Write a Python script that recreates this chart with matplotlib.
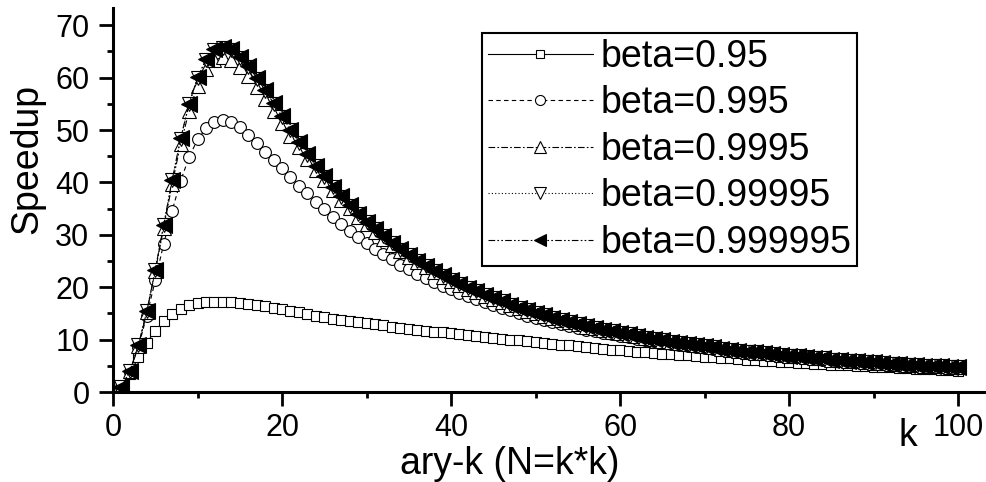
import matplotlib
matplotlib.use("Agg")
import matplotlib.pyplot as plt
from matplotlib.ticker import MultipleLocator

plt.rcParams['font.family'] = ['Liberation Sans', 'DejaVu Sans']

# k = 1..100 (ary-k)
k = list(range(1, 101))

# speedup values
beta_095 = [
    1.0, 3.5, 6.6, 9.4, 11.7, 13.5, 14.9, 15.9, 16.6, 16.9,
    17.1, 17.2, 17.2, 17.1, 17.0, 16.8, 16.6, 16.4, 16.1, 15.8,
    15.5, 15.2, 14.9, 14.6, 14.3, 14.0, 13.8, 13.5, 13.3, 13.1,
    12.9, 12.7, 12.5, 12.3, 12.1, 11.9, 11.7, 11.5, 11.4, 11.2,
    11.0, 10.9, 10.7, 10.5, 10.4, 10.2, 10.0, 9.9, 9.7, 9.5,
    9.4, 9.2, 9.0, 8.9, 8.7, 8.6, 8.4, 8.3, 8.1, 8.0,
    7.9, 7.7, 7.6, 7.5, 7.3, 7.2, 7.1, 7.0, 6.8, 6.7,
    6.6, 6.5, 6.4, 6.3, 6.2, 6.1, 6.0, 5.9, 5.8, 5.7,
    5.6, 5.5, 5.4, 5.3, 5.2, 5.15, 5.1, 5.0, 4.9, 4.8,
    4.75, 4.7, 4.6, 4.5, 4.45, 4.4, 4.3, 4.2, 4.15, 4.1,
]
beta_0995 = [
    1.0, 3.9, 8.6, 14.6, 21.3, 28.3, 34.6, 40.3, 44.8, 48.2,
    50.3, 51.5, 51.9, 51.5, 50.5, 49.0, 47.5, 45.9, 44.3, 42.7,
    41.1, 39.4, 37.9, 36.3, 34.9, 33.5, 32.1, 30.8, 29.6, 28.4,
    27.3, 26.3, 25.3, 24.3, 23.4, 22.6, 21.8, 21.0, 20.3, 19.6,
    18.9, 18.3, 17.7, 17.1, 16.6, 16.0, 15.6, 15.1, 14.6, 14.2,
    13.8, 13.4, 13.0, 12.6, 12.3, 11.9, 11.6, 11.3, 11.0, 10.7,
    10.5, 10.2, 9.9, 9.7, 9.4, 9.2, 9.0, 8.8, 8.6, 8.4,
    8.2, 8.0, 7.8, 7.7, 7.5, 7.3, 7.2, 7.0, 6.9, 6.7,
    6.6, 6.5, 6.3, 6.2, 6.1, 6.0, 5.8, 5.7, 5.6, 5.5,
    5.4, 5.3, 5.2, 5.1, 5.0, 4.9, 4.9, 4.8, 4.7, 4.6,
]
beta_09995 = [
    1.0, 4.0, 8.8, 15.3, 23.1, 31.4, 39.7, 47.3, 53.6, 58.4,
    61.6, 63.4, 63.9, 63.4, 62.1, 60.4, 58.3, 56.0, 53.7, 51.3,
    48.9, 46.7, 44.5, 42.4, 40.4, 38.5, 36.7, 35.1, 33.5, 32.0,
    30.6, 29.3, 28.1, 26.9, 25.8, 24.8, 23.8, 22.9, 22.0, 21.2,
    20.4, 19.7, 19.0, 18.3, 17.7, 17.1, 16.6, 16.0, 15.5, 15.0,
    14.6, 14.1, 13.7, 13.3, 12.9, 12.5, 12.2, 11.8, 11.5, 11.2,
    10.9, 10.6, 10.3, 10.1, 9.8, 9.6, 9.3, 9.1, 8.9, 8.7,
    8.5, 8.3, 8.1, 7.9, 7.7, 7.5, 7.4, 7.2, 7.1, 6.9,
    6.8, 6.6, 6.5, 6.4, 6.2, 6.1, 6.0, 5.9, 5.8, 5.6,
    5.5, 5.4, 5.3, 5.2, 5.1, 5.0, 5.0, 4.9, 4.8, 4.7,
]
beta_099995 = [
    1.0, 4.0, 8.9, 15.4, 23.3, 31.8, 40.4, 48.3, 54.9, 59.9,
    63.3, 65.2, 65.7, 65.2, 63.8, 62.0, 59.8, 57.4, 54.9, 52.5,
    50.0, 47.6, 45.3, 43.1, 41.1, 39.1, 37.3, 35.6, 33.9, 32.4,
    31.1, 29.7, 28.4, 27.2, 26.1, 25.0, 24.1, 23.1, 22.2, 21.4,
    20.6, 19.9, 19.2, 18.5, 17.9, 17.3, 16.7, 16.1, 15.6, 15.1,
    14.7, 14.2, 13.8, 13.4, 13.0, 12.6, 12.2, 11.9, 11.6, 11.3,
    11.0, 10.7, 10.4, 10.1, 9.9, 9.6, 9.4, 9.1, 8.9, 8.7,
    8.5, 8.3, 8.1, 7.9, 7.7, 7.6, 7.4, 7.2, 7.1, 6.9,
    6.8, 6.6, 6.5, 6.4, 6.2, 6.1, 6.0, 5.9, 5.8, 5.7,
    5.5, 5.4, 5.3, 5.2, 5.1, 5.0, 5.0, 4.9, 4.8, 4.7,
]
beta_0999995 = [
    1.0, 4.0, 8.9, 15.4, 23.3, 31.9, 40.5, 48.4, 55.0, 60.1,
    63.5, 65.4, 65.9, 65.4, 64.0, 62.2, 60.0, 57.6, 55.1, 52.6,
    50.1, 47.7, 45.4, 43.2, 41.2, 39.2, 37.4, 35.7, 34.0, 32.5,
    31.1, 29.7, 28.4, 27.3, 26.1, 25.1, 24.1, 23.1, 22.3, 21.4,
    20.6, 19.9, 19.2, 18.5, 17.9, 17.3, 16.7, 16.1, 15.6, 15.1,
    14.7, 14.2, 13.8, 13.4, 13.0, 12.6, 12.2, 11.9, 11.6, 11.3,
    11.0, 10.7, 10.4, 10.1, 9.9, 9.6, 9.4, 9.1, 8.9, 8.7,
    8.5, 8.3, 8.1, 7.9, 7.7, 7.6, 7.4, 7.2, 7.1, 6.9,
    6.8, 6.6, 6.5, 6.4, 6.2, 6.1, 6.0, 5.9, 5.8, 5.7,
    5.5, 5.4, 5.3, 5.2, 5.1, 5.0, 5.0, 4.9, 4.8, 4.7,
]

labels = ['beta=0.95', 'beta=0.995', 'beta=0.9995', 'beta=0.99995', 'beta=0.999995']
x_ticks = [0, 20, 40, 60, 80, 100]
y_ticks = [0, 10, 20, 30, 40, 50, 60, 70]

fig = plt.figure(figsize=(9.86, 4.82), dpi=100)
ax = fig.add_axes([113 / 986, 1 - 392 / 482, 1 - 113 / 986, (392 - 8) / 482])

estilos = [
    dict(marker='s', ls='-', ms=7.5, mfc='white'),
    dict(marker='o', ls=(0, (4, 3)), ms=8.5, mfc='white'),
    dict(marker='^', ls=(0, (6, 2, 1.5, 2)), ms=10.5, mfc='white'),
    dict(marker='v', ls=(0, (1, 2)), ms=10.5, mfc='white'),
    dict(marker='<', ls=(0, (6, 2, 1.5, 2, 1.5, 2)), ms=11, mfc='black'),
]
series = [beta_095, beta_0995, beta_09995, beta_099995, beta_0999995]

for ys, lab, st in zip(series, labels, estilos):
    ax.plot(k, ys, color='black', lw=0.8, mec='black', mew=0.8, label=lab, **st)

ax.set_xlim(0, 103.3)
ax.set_ylim(0, 73.3)
ax.set_xticks(x_ticks)
ax.set_yticks(y_ticks)
ax.xaxis.set_minor_locator(MultipleLocator(10))
ax.yaxis.set_minor_locator(MultipleLocator(5))

for s in ['top', 'right']:
    ax.spines[s].set_visible(False)
for s in ['left', 'bottom']:
    ax.spines[s].set_linewidth(2.2)

ax.tick_params(which='major', direction='out', length=10, width=2, labelsize=22)
ax.tick_params(which='minor', direction='out', length=4.5, width=2)
ax.tick_params(axis='x', which='major', pad=5)
ax.tick_params(axis='y', which='major', pad=7)

# etiquetas de ejes
fig.text(27 / 986, 1 - 159 / 482, 'Speedup', rotation=90, ha='center', va='center', fontsize=27)
fig.text(510 / 986, 1 - 474 / 482, 'ary-k (N=k*k)', ha='center', va='baseline', fontsize=27)
fig.text(908 / 986, 1 - 446 / 482, 'k', ha='center', va='baseline', fontsize=27)

leg = ax.legend(loc='upper left', bbox_to_anchor=(482 / 986, 1 - 33 / 482),
                bbox_transform=fig.transFigure, fontsize=27, numpoints=1,
                handlelength=2.8, handletextpad=0.2, borderpad=0.15,
                labelspacing=0.28, borderaxespad=0, fancybox=False,
                framealpha=1, edgecolor='black', markerscale=0.85)
leg.get_frame().set_linewidth(1.5)

fig.savefig('out.png', dpi=100, facecolor='white')
